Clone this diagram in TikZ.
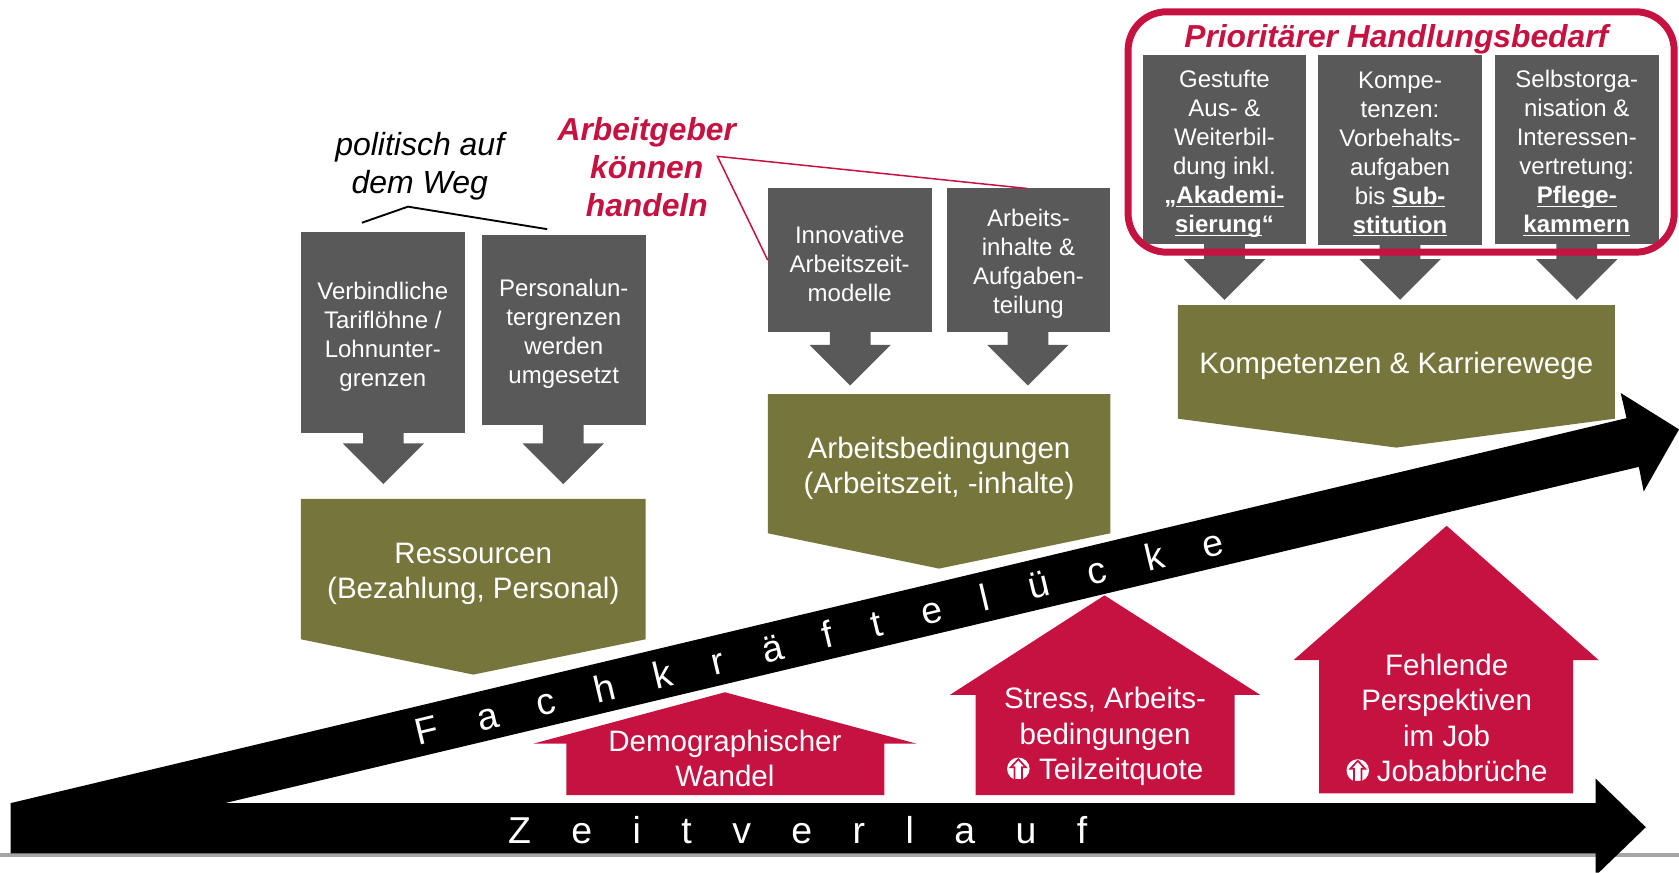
\documentclass[tikz,border=0pt]{standalone}
\usepackage{fontspec}
\setmainfont{Liberation Sans}
\newfontfamily\spacedfont[LetterSpace=108]{Liberation Sans}
\definecolor{boxgrey}{HTML}{595959}
\definecolor{barolive}{HTML}{76763C}
\definecolor{crimson}{HTML}{C51241}
\definecolor{rulegrey}{HTML}{A6A6A6}
\newcommand{\ul}[1]{\underline{\smash{#1}}}
\newcommand{\topstrut}{\rule{0pt}{13.5pt}}
\tikzset{
  greybox/.style={fill=boxgrey, text=white, minimum width=3.06cm, inner sep=0pt, align=center, font=\fontsize{12.75}{15.4}\selectfont},
  barlabel/.style={text=white, inner sep=0pt, align=center, font=\fontsize{15.7}{18.8}\selectfont},
  spaced/.style={text=white, inner sep=0pt, font=\spacedfont\fontsize{19.9}{24}\selectfont},
  redtitle/.style={text=crimson, inner sep=0pt, align=center, font=\bfseries\itshape\fontsize{16.9}{20.4}\selectfont},
}
\begin{document}
\begin{tikzpicture}[x=0.02cm,y=-0.02cm]
        \useasboundingbox (0,0) rectangle (1568,815);
        \fill[rulegrey] (0,797) rectangle (1568,800);
        % Zeitverlauf and Fachkraeftluecke
        \fill[black] (10,750) -- (1490,750) -- (1490,727) -- (1537,772.5) -- (1493,815) -- (1490,815) -- (1490,797) -- (10,797) -- cycle;
        \fill[black] (10,750) -- (1519,390.5) -- (1513.5,367) -- (1568,401) -- (1535,459) -- (1530.5,436) -- (210,750) -- cycle;
        \node[spaced] (zeit) at (745,775) {Zeitverlauf};
        \node[spaced, rotate=13.4] (luecke) at (765,594.5) {Fachkräftelücke};
        % block arrows
        \foreach \ax/\ay/\by in {358/404/414, 526/397/414, 794/310/322, 960/310/322, 1143.5/228/242, 1307.5/228/242, 1472.5/228/242}{
            \fill[boxgrey] (\ax-19,\ay) -- (\ax+19,\ay) -- (\ax+19,\by) -- (\ax+38,\by) -- (\ax,\by+38) -- (\ax-38,\by) -- (\ax-19,\by) -- cycle;
        }
        % grey boxes
        \node[greybox, minimum height=3.74cm] (tarif) at (357.5,310.5) {\topstrut Verbindliche\\Tariflöhne /\\Lohnunter-\\grenzen};
        \node[greybox, minimum height=3.56cm] (personal) at (526.5,308) {\topstrut Personalun-\\tergrenzen\\werden\\umgesetzt};
        \node[greybox, minimum height=2.68cm] (modelle) at (793.5,243) {\topstrut Innovative\\Arbeitszeit-\\modelle};
        \node[greybox, minimum height=2.68cm] (inhalte) at (960.5,243) {\topstrut Arbeits-\\inhalte \&\\Aufgaben-\\teilung};
        \node[greybox, minimum height=3.54cm] (ausbildung) at (1143.5,139.5) {\topstrut Gestufte\\Aus- \&\\Weiterbil-\\dung inkl.\\\textbf{„\ul{Akademi-}}\\\textbf{\ul{sierung}“}};
        \node[greybox, minimum height=3.54cm] (vorbehalt) at (1307.5,140) {\topstrut Kompe-\\tenzen:\\Vorbehalts-\\aufgaben\\bis \textbf{\ul{Sub-}}\\\textbf{\ul{stitution}}};
        \node[greybox, minimum height=3.54cm] (kammern) at (1472.5,139.5) {\topstrut Selbstorga-\\nisation \&\\Interessen-\\vertretung:\\\textbf{\ul{Pflege-}}\\\textbf{\ul{kammern}}};
        % olive bars
        \fill[barolive] (281,466) -- (603,466) -- (603,597) -- (442,630) -- (281,597) -- cycle;
        \fill[barolive] (717,368) -- (1037,368) -- (1037,498) -- (877,531) -- (717,498) -- cycle;
        \fill[barolive] (1100,285) -- (1508,285) -- (1508,391) -- (1304,418) -- (1100,391) -- cycle;
        \node[barlabel] (ressourcen) at (442,536) {Ressourcen\\(Bezahlung, Personal)};
        \node[barlabel] (bedingungen) at (877,437.5) {Arbeitsbedingungen\\(Arbeitszeit, -inhalte)};
        \node[barlabel] (karriere) at (1304,342) {Kompetenzen \& Karrierewege};
        % houses
        \fill[crimson] (677,646.5) -- (856,694.5) -- (826,694.5) -- (826,742.5) -- (529,742.5) -- (529,694.5) -- (498,694.5) -- cycle;
        \fill[crimson] (1031.5,556) -- (1177,649) -- (1153,649) -- (1153,742.5) -- (911,742.5) -- (911,649) -- (887,649) -- cycle;
        \fill[crimson] (1351,491) -- (1493,616.5) -- (1469,616.5) -- (1469,741) -- (1232,741) -- (1232,616.5) -- (1208,616.5) -- cycle;
        \node[barlabel] (demo) at (677,708.5) {Demographischer\\Wandel};
        \node[barlabel] (stress) at (1032,688) {Stress, Arbeits-\\bedingungen\\\hspace*{0.6cm}Teilzeitquote};
        \node[barlabel] (fehlend) at (1351,670.5) {Fehlende\\Perspektiven\\im Job\\\hspace*{0.58cm}Jobabbrüche};
        % up signs
        \foreach \ix/\iy in {951/718, 1268/719.5}{
            \fill[white] (\ix,\iy) circle (10.5);
            \draw[crimson, fill=white, line width=0.9pt, line join=miter] (\ix,\iy-9) -- (\ix+7,\iy-1.5) -- (\ix+3.5,\iy-1.5) -- (\ix+3.5,\iy+10.5) -- (\ix-3.5,\iy+10.5) -- (\ix-3.5,\iy-1.5) -- (\ix-7,\iy-1.5) -- cycle;
        }
        % Handlungsbedarf
        \draw[crimson, line width=6.5*0.02cm, rounded corners=0.72cm] (1053.5,11) rectangle (1563.5,235.5);
        \node[redtitle] (bedarf) at (1304,37) {Prioritärer Handlungsbedarf};
        % remarks
        \node[redtitle] (handeln) at (604,156) {Arbeitgeber\\können\\handeln};
        \node[inner sep=0pt, align=center, font=\itshape\fontsize{17}{20}\selectfont] (politisch) at (392,155.5) {politisch auf\\dem Weg};
        \coordinate (handelnpeak) at (670,146);
        \coordinate (wegpeak) at (381,193);
        \coordinate (wegleft) at (338,208);
        \coordinate (wegright) at (511,214);
        \coordinate (modellepoint) at (717,243);
        \coordinate (inhaltepoint) at (959,176);
        \draw[black, line width=1pt] (wegleft) -- (wegpeak) -- (wegright);
        \draw[crimson, line width=0.8pt] (modellepoint) -- (handelnpeak) -- (inhaltepoint);
\end{tikzpicture}
\end{document}
